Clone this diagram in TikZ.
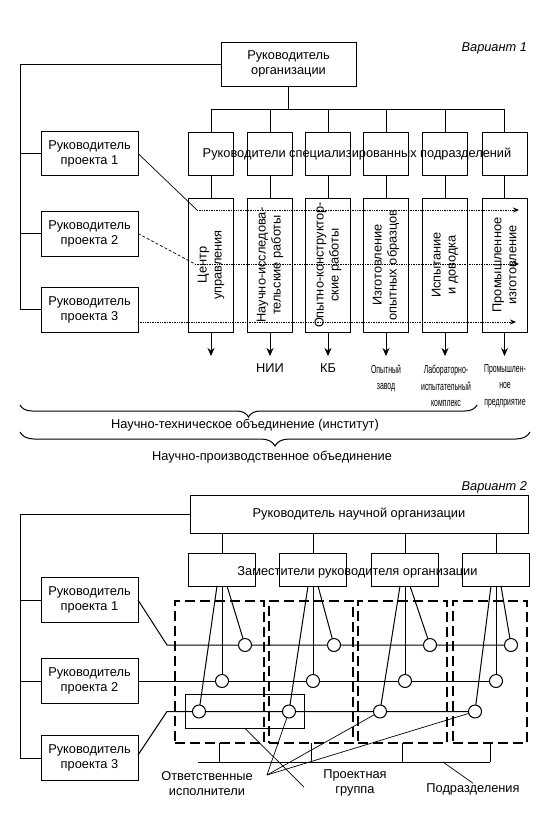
\documentclass[tikz,border=0pt]{standalone}
\usepackage{fontspec}
\setmainfont{Liberation Sans}
\newfontfamily\narrowfont[FakeStretch=0.6]{Liberation Sans}
\usetikzlibrary{arrows.meta,decorations.pathreplacing,backgrounds,calc}
\begin{document}
\begin{tikzpicture}[x=1pt,y=-1pt,
  every node/.style={inner sep=0pt, outer sep=0pt},
  T/.style={font=\fontsize{12.8}{15}\selectfont, align=center},
  IT/.style={font=\itshape\fontsize{12.8}{15}\selectfont},
  box/.style={draw, line width=1pt, T},
  ln/.style={line width=1pt},
  thinln/.style={line width=0.7pt},
  dot/.style={line width=0.7pt, densely dotted},
  arr/.style={-{Stealth[length=8pt,width=7pt]}},
  tip/.style={-{Stealth[length=6pt,width=5pt]}},
  small/.style={font=\narrowfont\fontsize{11.5}{16.5}\selectfont, align=center},
  subdiv/.style={draw, line width=1.6pt, dash pattern=on 10pt off 5pt},
  circ/.style={draw, circle, fill=white, line width=1pt, minimum size=13pt},
  brc/.style={line width=1pt, decorate},
]
\useasboundingbox (0,0) rectangle (555,814);

% ================= Variant 1 =================
\node[IT, anchor=east] (v1) at (527,48) {Вариант 1};
\node[box, minimum width=135pt, minimum height=44pt] (org) at (288.5,64) {Руководитель\\организации};
\node[box, minimum width=97pt, minimum height=44pt] (p1) at (89.5,153.5) {Руководитель\\проекта 1};
\node[box, minimum width=97pt, minimum height=45pt] (p2) at (89.5,233.5) {Руководитель\\проекта 2};
\node[box, minimum width=97pt, minimum height=45pt] (p3) at (89.5,309.5) {Руководитель\\проекта 3};

\foreach \i/\x in {1/211,2/270,3/328,4/386,5/445,6/504.5} {
  \node[draw, line width=1pt, minimum width=45pt, minimum height=43pt] (s\i) at (\x,153.5) {};
  \node[draw, line width=1pt, minimum width=45pt, minimum height=134pt] (t\i) at (\x,265) {};
  \coordinate (a\i) at (\x,356);
}
\node[T] (spec) at (357,154) {Руководители специализированных подразделений};

\node[T, rotate=90] (tt1) at (t1) {Центр\\управления};
\node[T, rotate=90] (tt2) at (t2) {Научно-исследова-\\тельские работы};
\node[T, rotate=90] (tt3) at (t3) {Опытно-конструктор-\\ские работы};
\node[T, rotate=90] (tt4) at (t4) {Изготовление\\опытных образцов};
\node[T, rotate=90] (tt5) at (t5) {Испытание\\и доводка};
\node[T, rotate=90] (tt6) at (t6) {Промышленное\\изготовление};

\coordinate (bus) at (0,109);
\coordinate (L) at (20,0);
\draw[ln] (org.south) -- (org.south |- bus);
\draw[ln] (s1.north |- bus) -- (s6.north |- bus);
\foreach \i in {1,...,6} {
  \draw[ln] (s\i.north |- bus) -- (s\i.north);
  \draw[ln] (s\i.south) -- (t\i.north);
  \draw[ln, arr] (t\i.south) -- (a\i);
}
\draw[ln] (org.west) -- (org.west -| L) |- (p3.west);
\draw[ln] (p1.west -| L) -- (p1.west);
\draw[ln] (p2.west -| L) -- (p2.west);

\coordinate (d1) at (197,210); \coordinate (e1) at (519,210);
\coordinate (d2) at (195,264); \coordinate (e2) at (519,264);
\coordinate (d3) at (138,322); \coordinate (e3) at (516,322);
\draw[thinln] (p1.east) -- (d1);
\draw[dot, tip] (d1) -- (e1);
\draw[thinln, densely dashed] (p2.east) -- (d2);
\draw[dot, tip] (d2) -- (e2);
\draw[dot, tip] (d3) -- (e3);

\node[T] (nii) at (270,368) {НИИ};
\node[T] (kb) at (328,368) {КБ};
\node[small] (oz) at (386,378.5) {Опытный\\завод};
\node[small] (lik) at (446,386) {Лабораторно-\\испытательный\\комплекс};
\node[small] (pp) at (505,386) {Промышлен-\\ное\\предприятие};

\draw[brc, decoration={brace, mirror, amplitude=12pt}] (20,405) -- (477,405);
\node[T] (nto) at (245,425) {Научно-техническое объединение (институт)};
\draw[brc, decoration={brace, mirror, amplitude=14pt}] (20,432) -- (530,432);
\node[T] (npo) at (272,457) {Научно-производственное объединение};

% ================= Variant 2 =================
\node[IT, anchor=east] (v2) at (527,487) {Вариант 2};
\node[box, minimum width=338pt, minimum height=38pt] (top2) at (359,514) {Руководитель научной организации};
\node[box, minimum width=97pt, minimum height=45pt] (q1) at (89.5,600) {Руководитель\\проекта 1};
\node[box, minimum width=97pt, minimum height=45pt] (q2) at (89.5,681) {Руководитель\\проекта 2};
\node[box, minimum width=97pt, minimum height=45pt] (q3) at (89.5,758) {Руководитель\\проекта 3};

\foreach \i/\x in {1/222,2/313,3/405,4/496} {
  \node[draw, line width=1pt, minimum width=67pt, minimum height=33pt] (dp\i) at (\x,569.5) {};
}
\node[T] (dep) at (357.5,572) {Заместители руководителя организации};

\node[subdiv, minimum width=89pt, minimum height=142pt] (sd1) at (219.5,672) {};
\node[subdiv, minimum width=84pt, minimum height=142pt] (sd2) at (311,672) {};
\node[subdiv, minimum width=89pt, minimum height=142pt] (sd3) at (402.5,672) {};
\node[subdiv, minimum width=74pt, minimum height=142pt] (sd4) at (490,672) {};

\node[draw, line width=1pt, minimum width=119pt, minimum height=34pt] (pg) at (244.5,711) {};

\foreach \i/\x in {1/245,2/334,3/430,4/511} { \node[circ] (ca\i) at (\x,645) {}; }
\foreach \i/\x in {1/222,2/313,3/405,4/496} { \node[circ] (cb\i) at (\x,681) {}; }
\foreach \i/\x in {1/199,2/289,3/380,4/475} { \node[circ] (cc\i) at (\x,711.5) {}; }

\node[T] (resp) at (207,784) {Ответственные\\исполнители};
\node[T] (grp) at (355,783) {Проектная\\группа};
\node[T] (subl) at (473,789) {Подразделения};

\coordinate (k1) at (167,645);
\coordinate (k3) at (167,711.5);
\coordinate (rp) at (267,775);
\coordinate (ge) at (304,787);
\coordinate (sb) at (0,762);
\coordinate (sbl) at (198,762);
\coordinate (sp) at (443,762);

\begin{scope}[on background layer]
  \fill[white] (0,0) rectangle (555,814);
  \draw[ln] (top2.west) -- (top2.west -| L) |- (q3.west);
  \draw[ln] (q1.west -| L) -- (q1.west);
  \draw[ln] (q2.west -| L) -- (q2.west);
  \foreach \i in {1,...,4} {
    \draw[ln] (dp\i.north |- top2.south) -- (dp\i.north);
    \draw[ln] ([xshift=-5pt]dp\i.south) -- (cc\i);
    \draw[ln] (dp\i.south) -- (cb\i);
    \draw[ln] ([xshift=5pt]dp\i.south) -- (ca\i);
    \draw[ln] (sd\i.south) -- (sd\i.south |- sb);
  }
  \draw[ln] (q1.east) -- (k1) -- (ca4);
  \draw[ln] (q2.east) -- (cb4);
  \draw[ln] ($(q3.east)+(0,-3)$) -- (k3) -- (cc4);
  \draw[ln] (sbl) -- (sd4.south |- sb);
  \draw[thinln] (sp) -- (subl.north);
  \draw[thinln] (pg.south) -- (ge);
  \draw[thinln] (rp) -- (cc2);
  \draw[thinln] (rp) -- (cc3);
  \draw[thinln] (rp) -- (cc4);
\end{scope}
\end{tikzpicture}
\end{document}
